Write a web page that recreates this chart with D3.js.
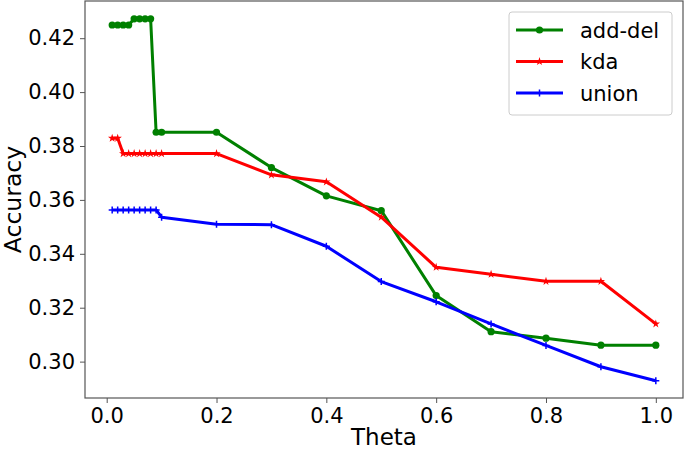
<!DOCTYPE html>
<html><head><meta charset="utf-8">
<script src="https://cdn.jsdelivr.net/npm/d3@7"></script>
<style>body{margin:0;background:#fff}svg{display:block;font-family:"DejaVu Sans",sans-serif}</style>
</head><body><svg id="c" width="685" height="450"></svg>
<script>
const thetaFine = [0.01,0.02,0.03,0.04,0.05,0.06,0.07,0.08,0.09,0.1,0.2,0.3,0.4,0.5,0.6,0.7,0.8,0.9,1.0];
const addDel = [0.4249,0.4249,0.4249,0.4249,0.4272,0.4272,0.4272,0.4272,0.3851,0.3851,0.3851,0.3720,0.3615,0.3560,0.3245,0.3111,0.3087,0.3061,0.3061];
const kda    = [0.3829,0.3829,0.3772,0.3772,0.3772,0.3772,0.3772,0.3772,0.3772,0.3772,0.3772,0.3693,0.3667,0.3536,0.3350,0.3324,0.3298,0.3298,0.3140];
const union  = [0.3563,0.3563,0.3563,0.3563,0.3563,0.3563,0.3563,0.3563,0.3563,0.3536,0.3510,0.3508,0.3428,0.3297,0.3222,0.3140,0.3060,0.2981,0.2929];
const seriesNames = ["add-del","kda","union"];
const seriesColors = ["#008000","#ff0000","#0000ff"];
const seriesMarkers = ["circle","star","plus"];
const xTicks = [0,0.2,0.4,0.6,0.8,1.0];
const yTicks = [0.30,0.32,0.34,0.36,0.38,0.40,0.42];

const svg = d3.select("#c");
const L=85,R=683,T=1,B=398;
const x = d3.scaleLinear().domain([-0.0395,1.0495]).range([L,R]);
const y = d3.scaleLinear().domain([0.2865,0.4338]).range([B,T]);

const data = [addDel,kda,union].map((vals,i)=>({name:seriesNames[i],color:seriesColors[i],marker:seriesMarkers[i],pts:vals.map((v,j)=>[thetaFine[j],v])}));

const line = d3.line().x(d=>x(d[0])).y(d=>y(d[1]));
function drawMarker(g,type,color,cx,cy){
  if(type==="circle"){
    g.append("circle").attr("cx",cx).attr("cy",cy).attr("r",3.6).attr("fill",color);
  } else if(type==="star"){
    g.append("path").attr("d",d3.symbol(d3.symbolStar,22)()).attr("transform",`translate(${cx},${cy})`).attr("fill",color);
  } else {
    g.append("path").attr("d",`M${cx-3.5},${cy}H${cx+3.5}M${cx},${cy-3.5}V${cy+3.5}`).attr("stroke",color).attr("stroke-width",1.5);
  }
}
const plot = svg.append("g");
data.forEach(s=>{
  plot.append("path").datum(s.pts).attr("d",line).attr("fill","none").attr("stroke",s.color).attr("stroke-width",3).attr("stroke-linejoin","round");
  const mg = plot.append("g");
  s.pts.forEach(p=>drawMarker(mg,s.marker,s.color,x(p[0]),y(p[1])));
});

// axes
const xAxis = svg.append("g").attr("transform",`translate(0,${B})`).call(d3.axisBottom(x).tickValues(xTicks).tickFormat(d3.format(".1f")).tickSize(5).tickPadding(5));
const yAxis = svg.append("g").attr("transform",`translate(${L},0)`).call(d3.axisLeft(y).tickValues(yTicks).tickFormat(d3.format(".2f")).tickSize(5).tickPadding(5));
[xAxis,yAxis].forEach(a=>{
  a.select(".domain").remove();
  a.selectAll("line").attr("stroke","#555").attr("stroke-width",1);
  a.selectAll("text").attr("font-size",21).attr("fill","#000").attr("font-family","DejaVu Sans");
});
svg.append("rect").attr("x",L).attr("y",T).attr("width",R-L).attr("height",B-T).attr("fill","none").attr("stroke","#555").attr("stroke-width",1.2);

svg.append("text").attr("x",(L+R)/2).attr("y",445).attr("text-anchor","middle").attr("font-size",23).text("Theta");
svg.append("text").attr("transform",`translate(20.5,${(T+B)/2}) rotate(-90)`).attr("text-anchor","middle").attr("font-size",23.5).text("Accuracy");

// legend
const lg = svg.append("g");
lg.append("rect").attr("x",509).attr("y",12).attr("width",163).attr("height",103).attr("rx",3).attr("fill","#fff").attr("fill-opacity",0.8).attr("stroke","#ccc");
data.forEach((s,i)=>{
  const cy = 30+i*31.5;
  lg.append("line").attr("x1",516).attr("x2",563).attr("y1",cy).attr("y2",cy).attr("stroke",s.color).attr("stroke-width",3);
  drawMarker(lg,s.marker,s.color,539.5,cy);
  lg.append("text").attr("x",580).attr("y",cy+7.5).attr("font-size",21).text(s.name);
});
</script></body></html>
